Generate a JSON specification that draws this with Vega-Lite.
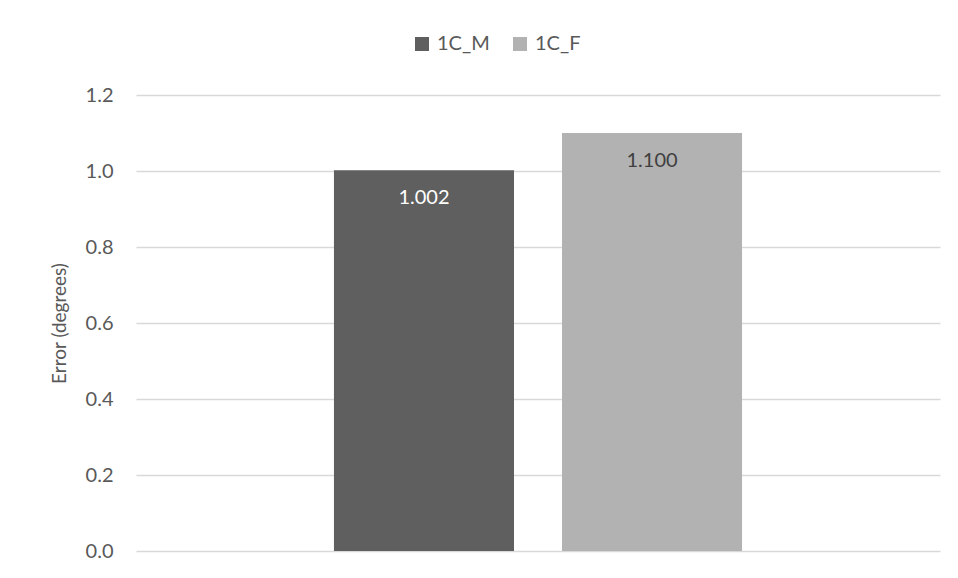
{
  "$schema": "https://vega.github.io/schema/vega-lite/v6.json",
  "width": 804,
  "height": 456,
  "autosize": {"type": "none"},
  "padding": {"left": 136, "top": 95, "right": 18, "bottom": 27},
  "background": "white",
  "config": {"font": "Lato", "view": {"stroke": null}},
  "data": {
    "values": [
      {"series": "1C_M", "error": 1.002},
      {"series": "1C_F", "error": 1.1}
    ]
  },
  "encoding": {
    "x": {
      "field": "series",
      "type": "nominal",
      "sort": ["1C_M", "1C_F"],
      "scale": {"paddingInner": 0.2105, "paddingOuter": 0.868},
      "axis": null
    },
    "y": {
      "field": "error",
      "type": "quantitative",
      "scale": {"domain": [0, 1.2]},
      "axis": {
        "title": "Error (degrees)",
        "values": [0, 0.2, 0.4, 0.6, 0.8, 1.0, 1.2],
        "format": ".1f",
        "grid": true,
        "gridColor": "#d9d9d9",
        "gridWidth": 1.5,
        "domain": false,
        "ticks": false,
        "labelFontSize": 20,
        "labelColor": "#595959",
        "labelPadding": 23,
        "titleFontSize": 19,
        "titleFontWeight": "normal",
        "titleColor": "#595959",
        "titlePadding": 16
      }
    }
  },
  "layer": [
    {
      "mark": {"type": "bar"},
      "encoding": {
        "color": {
          "field": "series",
          "type": "nominal",
          "scale": {"domain": ["1C_M", "1C_F"], "range": ["#5f5f5f", "#b2b2b2"]},
          "legend": {
            "title": null,
            "orient": "none",
            "direction": "horizontal",
            "legendX": 276,
            "legendY": -61,
            "symbolType": "square",
            "symbolSize": 196,
            "symbolStrokeWidth": 0,
            "labelFontSize": 20,
            "labelColor": "#595959",
            "labelOffset": 5,
            "columnPadding": 20
          }
        }
      }
    },
    {
      "mark": {"type": "text", "baseline": "middle", "dy": 28, "fontSize": 20},
      "encoding": {
        "text": {"field": "error", "type": "quantitative", "format": ".3f"},
        "color": {
          "condition": {"test": "datum.series === '1C_M'", "value": "#ffffff"},
          "value": "#404040"
        }
      }
    }
  ]
}
